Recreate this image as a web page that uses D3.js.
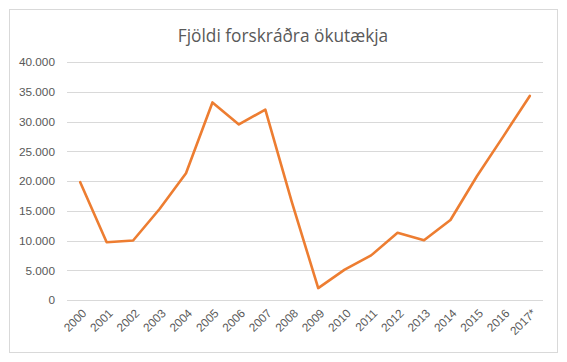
<!DOCTYPE html>
<html>
<head>
<meta charset="utf-8">
<script src="https://cdn.jsdelivr.net/npm/d3@7"></script>
<style>
  body { margin: 0; background: #fff; }
  svg { font-family: "Open Sans", "Liberation Sans", sans-serif; }
  .grid line { stroke: #d9d9d9; }
  .axis text { fill: #595959; font-size: 11.8px; }
</style>
</head>
<body>
<svg id="chart" width="567" height="362"></svg>
<script>
const years = ["2000", "2001", "2002", "2003", "2004", "2005", "2006", "2007", "2008",
  "2009", "2010", "2011", "2012", "2013", "2014", "2015", "2016", "2017*"];
const vehicles = [19800, 9700, 10000, 15300, 21300, 33200, 29500, 32000, 16500,
  2000, 5100, 7500, 11300, 10050, 13450, 20800, 27500, 34300];
const yTicks = [0, 5000, 10000, 15000, 20000, 25000, 30000, 35000, 40000];
const title = "Fjöldi forskráðra ökutækja";

var svg = d3.select("#chart"),
  margin = { top: 62, right: 24, bottom: 62, left: 67 },
  width = +svg.attr("width") - margin.left - margin.right,
  height = +svg.attr("height") - margin.top - margin.bottom;

// chart frame
svg.append("rect")
  .attr("x", 9.5).attr("y", 9.5)
  .attr("width", 548).attr("height", 343)
  .attr("fill", "#fff")
  .attr("stroke", "#d9d9d9");

svg.append("text")
  .attr("x", 283)
  .attr("y", 42)
  .attr("text-anchor", "middle")
  .attr("fill", "#595959")
  .style("font-size", "17.3px")
  .text(title);

var x = d3.scaleBand().domain(years).range([0, width]);
var y = d3.scaleLinear().domain([0, 40000]).range([height, 0]);

var g = svg.append("g")
  .attr("transform", "translate(" + margin.left + "," + margin.top + ")");

// gridlines
g.append("g")
  .attr("class", "grid")
  .selectAll("line")
  .data(yTicks)
  .enter()
  .append("line")
  .attr("x1", 0)
  .attr("x2", width)
  .attr("y1", d => Math.round(y(d)) + 0.5)
  .attr("y2", d => Math.round(y(d)) + 0.5);

var fmt = d3.formatLocale({ decimal: ",", thousands: ".", grouping: [3], currency: ["", ""] }).format(",");

var yAxis = g.append("g")
  .attr("class", "axis")
  .call(d3.axisLeft(y).tickValues(yTicks).tickFormat(fmt).tickSize(0).tickPadding(12));
yAxis.select(".domain").remove();

var xAxis = g.append("g")
  .attr("class", "axis")
  .attr("transform", "translate(0," + height + ")")
  .call(d3.axisBottom(x).tickSize(0).tickPadding(0));
xAxis.select(".domain").remove();
xAxis.selectAll("text")
  .attr("text-anchor", "end")
  .attr("dy", null)
  .attr("y", 0)
  .attr("transform", "translate(7,14) rotate(-45)");

var line = d3.line()
  .x((d, i) => x(years[i]) + x.bandwidth() / 2)
  .y(d => y(d));

g.append("path")
  .datum(vehicles)
  .attr("fill", "none")
  .attr("stroke", "#ed7d31")
  .attr("stroke-width", 2.6)
  .attr("stroke-linejoin", "round")
  .attr("stroke-linecap", "round")
  .attr("d", line);
</script>
</body>
</html>
